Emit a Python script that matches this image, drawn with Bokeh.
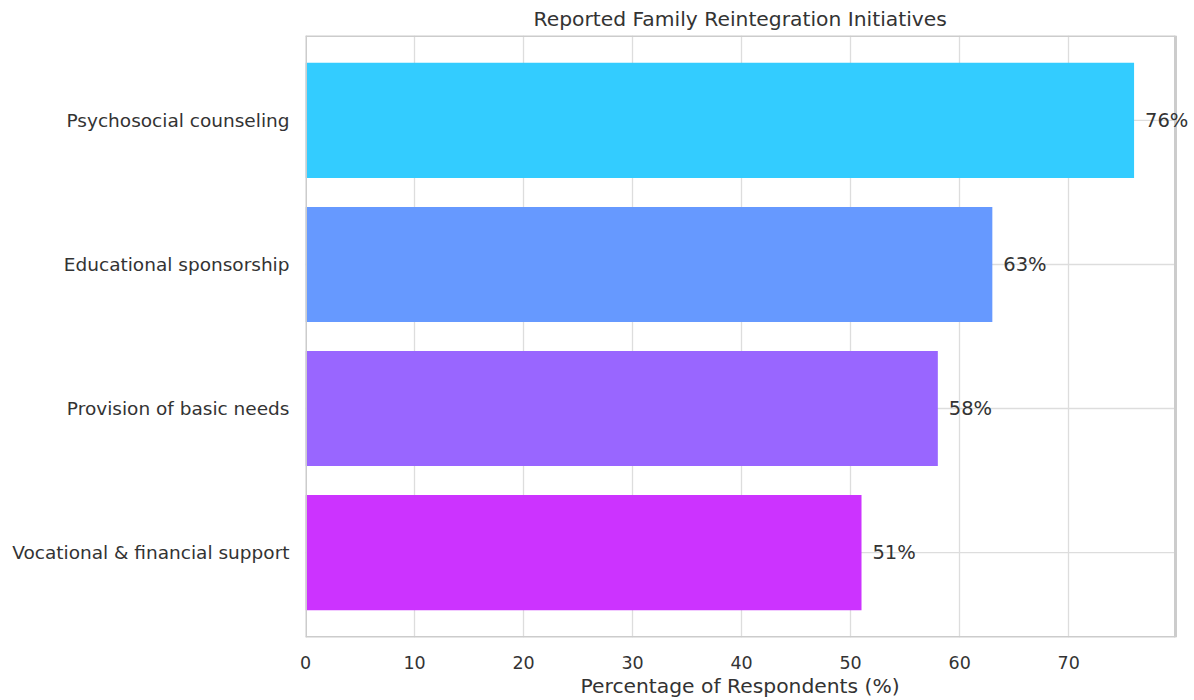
from bokeh.plotting import figure
from bokeh.models import ColumnDataSource, FixedTicker, Range1d, LabelSet, Title
from bokeh.embed import file_html
from bokeh.resources import INLINE
from bokeh.core.properties import value

categories = ["Vocational & financial support", "Provision of basic needs",
              "Educational sponsorship", "Psychosocial counseling"]
percentages = [51, 58, 63, 76]
colors = ["#cc33ff", "#9966ff", "#6699ff", "#33ccff"]
x_ticks = [0, 10, 20, 30, 40, 50, 60, 70]

ypos = list(range(len(categories)))
src = ColumnDataSource(dict(
    y=ypos, v=percentages, c=colors,
    lx=[v + 1 for v in percentages],
    lab=[f"{v}%" for v in percentages],
))

FONT = "DejaVu Sans"
TXT = "#333333"

# axes box (data) and frame extended to the window edge so the last label is not clipped
x_max = max(percentages) * 1.05
y_min, y_max = -0.59, len(categories) - 1 + 0.59
left_px, box_right_px, win_w = 305, 1175, 1194
x_end = x_max * (win_w - left_px) / (box_right_px - left_px)

p = figure(width=win_w, height=700, output_backend="svg", toolbar_location=None,
           x_range=Range1d(0, x_end), y_range=Range1d(y_min, y_max),
           min_border_left=left_px, min_border_right=0, min_border_top=35,
           min_border_bottom=63)

p.title.text = "Reported Family Reintegration Initiatives"
p.title.align = "left"
p.title.offset = 228
p.title.text_font = FONT
p.title.text_font_size = "20.3px"
p.title.text_font_style = "normal"
p.title.text_color = TXT
p.title.standoff = 9

# x-axis label, centred on the axes box
xlabel = Title(text="Percentage of Respondents (%)", align="left", offset=275,
               text_font=FONT, text_font_size="20.3px", text_font_style="normal",
               text_color=TXT, standoff=0)
p.add_layout(xlabel, "below")

# horizontal grid lines (manual, limited to the axes box)
p.segment(x0=[0] * len(ypos), x1=[x_max] * len(ypos), y0=ypos, y1=ypos,
          line_color="#dddddd", line_width=1.3)

p.hbar(y="y", right="v", left=0, height=0.8, fill_color="c", line_color=None, source=src)
labels = LabelSet(x="lx", y="y", text="lab", source=src, text_font=value(FONT),
                  text_font_size="19.5px", text_color=TXT, text_baseline="middle",
                  text_align="left")
p.add_layout(labels)

# axes box outline
p.multi_line(xs=[[0, 0], [0, x_max], [0, x_max], [x_max, x_max]],
             ys=[[y_min, y_max], [y_max, y_max], [y_min, y_min], [y_min, y_max]],
             line_color="#cccccc", line_width=3)

p.outline_line_color = None

p.xaxis.ticker = FixedTicker(ticks=x_ticks)
p.yaxis.ticker = FixedTicker(ticks=ypos)
p.yaxis.major_label_overrides = {i: c for i, c in enumerate(categories)}
for ax in (p.xaxis[0], p.yaxis[0]):
    ax.axis_line_color = None
    ax.major_tick_line_color = None
    ax.minor_tick_line_color = None
    ax.major_label_text_font = FONT
    ax.major_label_text_color = TXT
p.xaxis.major_label_text_font_size = "17.5px"
p.yaxis.major_label_text_font_size = "18.5px"
p.xaxis.major_label_standoff = 12
p.yaxis.major_label_standoff = 10

p.xgrid.grid_line_color = "#dddddd"
p.xgrid.grid_line_width = 1.3
p.ygrid.grid_line_color = None
p.background_fill_color = "white"
p.border_fill_color = "white"

open("out.html", "w").write(file_html(p, INLINE))
